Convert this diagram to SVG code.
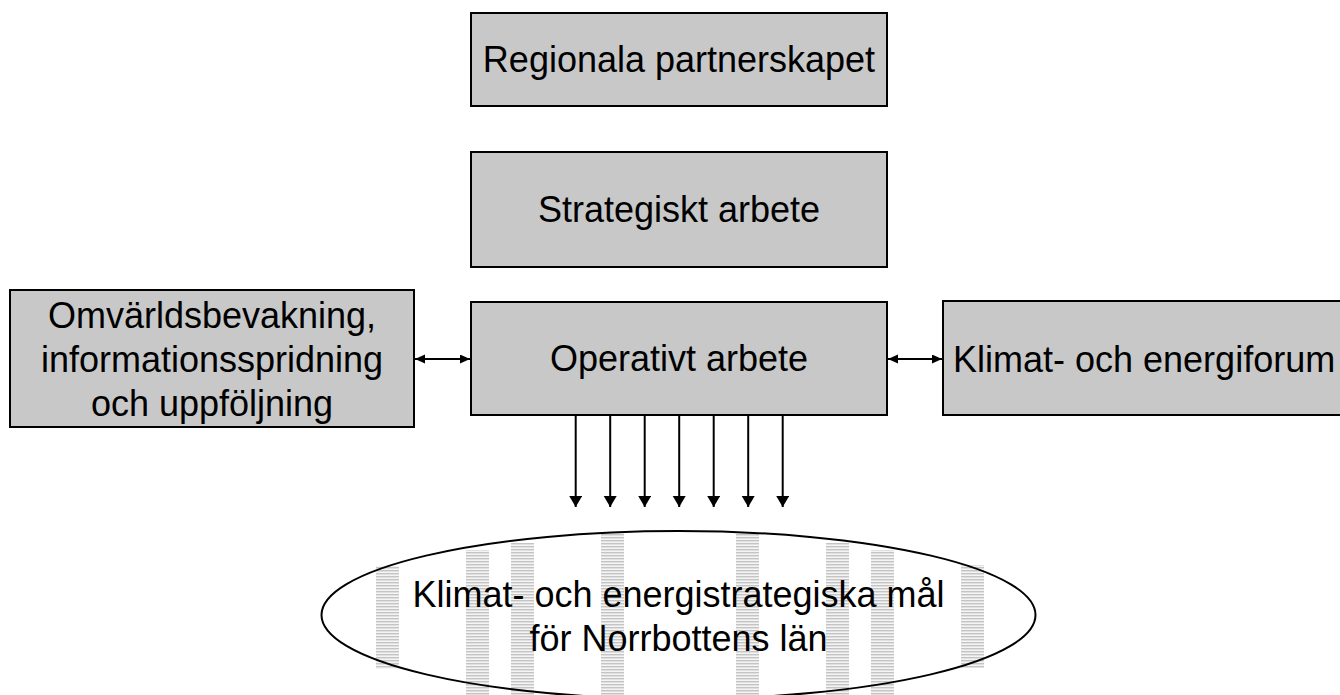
<svg xmlns="http://www.w3.org/2000/svg" width="1340" height="695" viewBox="0 0 1340 695">
  <style>
    .box { fill: #c8c8c8; stroke: #000; stroke-width: 2; }
    .lbl { font-family: "Liberation Sans", Arial, sans-serif; font-size: 36px; fill: #000; }
    .mid { text-anchor: middle; }
    .conn { stroke: #000; stroke-width: 2; fill: none; }
  </style>
  <defs>
    <marker id="headS" markerUnits="userSpaceOnUse" markerWidth="11" markerHeight="10" refX="10" refY="4.5" orient="auto-start-reverse">
      <path d="M0,0 L10,4.5 L0,9 z" fill="#000"/>
    </marker>
    <marker id="headV" markerUnits="userSpaceOnUse" markerWidth="12" markerHeight="14" refX="11" refY="6.5" orient="auto">
      <path d="M0,0 L11,6.5 L0,13 z" fill="#000"/>
    </marker>
    <pattern id="stripes" patternUnits="userSpaceOnUse" width="23" height="3">
      <rect x="0" y="0" width="23" height="1" fill="#c4c4c4"/>
      <rect x="0" y="1" width="23" height="1" fill="#e0e0e0"/>
      <rect x="0" y="2" width="23" height="1" fill="#f4f4f4"/>
    </pattern>
  </defs>

  <rect width="1340" height="695" fill="#fff"/>

  <g id="node-regionala">
    <rect class="box" x="471" y="13" width="416" height="93"/>
    <text class="lbl mid" x="679" y="72">Regionala partnerskapet</text>
  </g>

  <g id="node-strategiskt">
    <rect class="box" x="471" y="152" width="416" height="115"/>
    <text class="lbl mid" x="679" y="222">Strategiskt arbete</text>
  </g>

  <g id="node-operativt">
    <rect class="box" x="471" y="302" width="416" height="113"/>
    <text class="lbl mid" x="679" y="371">Operativt arbete</text>
  </g>

  <g id="node-omvarld">
    <rect class="box" x="10" y="290" width="404" height="137"/>
    <text class="lbl mid" x="212" y="328">Omvärldsbevakning,</text>
    <text class="lbl mid" x="212" y="372">informationsspridning</text>
    <text class="lbl mid" x="212" y="416">och uppföljning</text>
  </g>

  <g id="node-forum">
    <rect class="box" x="943" y="301" width="420" height="114"/>
    <text class="lbl" x="953" y="372">Klimat- och energiforum</text>
  </g>

  <g id="node-mal">
    <ellipse cx="678.5" cy="615" rx="357" ry="84" fill="#fff"/>
    <g fill="url(#stripes)">
      <rect x="376" y="566" width="23" height="103"/>
      <rect x="466" y="550" width="23" height="145"/>
      <rect x="511" y="543" width="23" height="152"/>
      <rect x="601" y="533" width="23" height="162"/>
      <rect x="736" y="533" width="23" height="162"/>
      <rect x="826" y="543" width="23" height="152"/>
      <rect x="871" y="550" width="23" height="145"/>
      <rect x="961" y="565" width="23" height="103"/>
    </g>
    <ellipse cx="678.5" cy="615" rx="357" ry="84" fill="none" stroke="#000" stroke-width="2"/>
    <text class="lbl mid" x="678.5" y="607">Klimat- och energistrategiska mål</text>
    <text class="lbl mid" x="678.5" y="651">för Norrbottens län</text>
  </g>

  <g id="connectors">
    <line class="conn" x1="415" y1="359" x2="470" y2="359" marker-start="url(#headS)" marker-end="url(#headS)"/>
    <line class="conn" x1="888" y1="359" x2="942" y2="359" marker-start="url(#headS)" marker-end="url(#headS)"/>
    <line class="conn" x1="575.7" y1="416" x2="575.7" y2="507" marker-end="url(#headV)"/>
    <line class="conn" x1="610.2" y1="416" x2="610.2" y2="507" marker-end="url(#headV)"/>
    <line class="conn" x1="644.7" y1="416" x2="644.7" y2="507" marker-end="url(#headV)"/>
    <line class="conn" x1="679.2" y1="416" x2="679.2" y2="507" marker-end="url(#headV)"/>
    <line class="conn" x1="713.7" y1="416" x2="713.7" y2="507" marker-end="url(#headV)"/>
    <line class="conn" x1="748.2" y1="416" x2="748.2" y2="507" marker-end="url(#headV)"/>
    <line class="conn" x1="782.7" y1="416" x2="782.7" y2="507" marker-end="url(#headV)"/>
  </g>
</svg>
